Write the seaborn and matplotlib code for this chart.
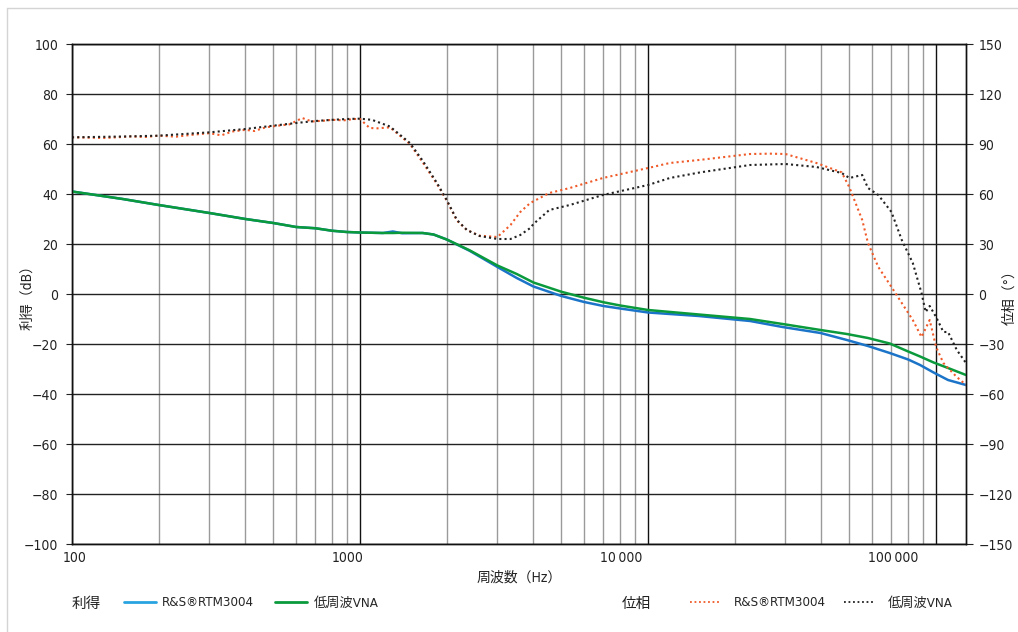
import numpy as np
import pandas as pd
import matplotlib.pyplot as plt
import seaborn as sns
from matplotlib.lines import Line2D
from matplotlib.transforms import ScaledTranslation
from matplotlib.ticker import FixedLocator, FixedFormatter, LogLocator, NullFormatter

# gain (dB)
gain_freq = [100, 150, 200, 300, 400, 500, 600, 700, 800, 900, 1000, 1200, 1300, 1400,
             1650, 1800, 2000, 2400, 3000, 3500, 4000, 5000, 6000, 7000, 8000, 10000,
             15000, 22600, 29300, 39700, 49000, 58000, 69000, 80000, 88000, 98000,
             110000, 127000]
gain_vna = [41, 38, 35.6, 32.4, 30, 28.4, 26.8, 26.3, 25.3, 24.8, 24.6, 24.4, 24.4, 24.5,
            24.4, 23.8, 21.8, 17.5, 11.4, 8, 4.6, 0.9, -1.5, -3.3, -4.6, -6.4,
            -8.2, -10, -12, -14.4, -16, -17.6, -19.8, -23, -25, -27.4, -29.6, -32.4]
gain_rtm = [41, 38, 35.6, 32.4, 30, 28.4, 26.8, 26.3, 25.3, 24.8, 24.6, 24.4, 25.0, 24.3,
            24.4, 23.8, 21.8, 17.3, 10.8, 6.4, 3, -0.8, -3.2, -4.8, -5.8, -7.4,
            -8.8, -10.8, -13.2, -15.6, -18.4, -20.8, -23.6, -26.2, -28.4, -31.4, -34.4, -36.4]

# phase (deg)
ph_vna_freq = [100, 150, 200, 300, 400, 500, 600, 700, 800, 900, 1000, 1100, 1270, 1490,
               1650, 1850, 2000, 2170, 2350, 2600, 3000, 3330, 3600, 3900, 4000, 4540,
               5350, 6970, 10000, 11900, 15200, 22600, 30000, 38400, 47000, 50000, 55400,
               58000, 63000, 70000, 76000, 83000, 89000, 92000, 95000, 100000, 106000,
               110000, 118000, 127000]
ph_vna = [94, 94.5, 95, 97, 99, 101, 102.6, 103.8, 104.5, 105, 105.2, 104.5, 100.5, 90.6,
          80, 66.6, 56.4, 44.4, 38.4, 34.8, 33, 33, 35.4, 39.6, 42, 50.4,
          53.4, 59.4, 65.4, 69.6, 73, 77.4, 78, 76.2, 72.6, 69.6, 71.4,
          63.6, 59.4, 49.2, 32.4, 18.6, 0.6, -10.8, -7.2, -13.8, -22.8,
          -22.8, -33.6, -41.4]
ph_rtm_freq = [100, 130, 160, 180, 200, 230, 260, 300, 330, 360, 400, 430, 470, 520, 570,
               630, 680, 750, 800, 880, 950, 1000, 1080, 1150, 1270, 1490, 1650, 1850,
               2000, 2170, 2350, 2600, 3000, 3330, 3600, 3900, 4540, 5350, 6970, 10000,
               11900, 15200, 22600, 26500, 30000, 38400, 47000, 50000, 55400, 58000,
               63000, 70000, 76000, 83000, 89000, 95000, 100000, 106000, 110000, 118000,
               127000]
ph_rtm = [94, 93.6, 94.5, 94.2, 95, 94.4, 95.5, 96.5, 95.2, 97.5, 98.5, 97.8, 100, 101, 101.8,
          105.6, 103.5, 104, 104.5, 104.2, 105, 105, 99.6, 99.4, 100, 90, 79, 66,
          56, 44, 38.4, 35, 34.2, 41.4, 49.2, 54.6, 60.6, 63.6, 69.6, 75.6,
          78.6, 80.5, 84, 84.2, 84, 78.6, 73, 64, 44.4, 30.6,
          16.2, 4.2, -5.4, -15.6, -25.8, -15.6, -31.8, -41.4, -44.4, -49.8,
          -54.6]

x_ticks = [100, 1000, 10000, 100000]
x_labels = ['100', '1000', '10\u2009000', '100\u2009000']

blue = '#1b74c8'
green = '#0a9a3c'
orange = '#f05a28'
black = '#222222'

sns.set_style('white')
plt.rcParams['font.family'] = ['DejaVu Sans', 'Noto Sans CJK JP']
plt.rcParams['font.stretch'] = 'condensed'
plt.rcParams['font.size'] = 10

fig = plt.figure(figsize=(10.18, 6.32), dpi=100)
ax = fig.add_axes([72/1018, 1-544/632, 894/1018, 500/632])
ax2 = ax.twinx()

gdf = pd.DataFrame({'f': gain_freq, 'rtm': gain_rtm, 'vna': gain_vna})
sns.lineplot(data=gdf, x='f', y='rtm', ax=ax, color=blue, lw=1.8, zorder=3)
sns.lineplot(data=gdf, x='f', y='vna', ax=ax, color=green, lw=1.8, zorder=4)
sns.lineplot(x=ph_rtm_freq, y=ph_rtm, ax=ax2, color=orange, lw=1.5, ls=(0, (1, 1.5)))
sns.lineplot(x=ph_vna_freq, y=ph_vna, ax=ax2, color=black, lw=1.5, ls=(0, (1, 1.5)))

ax.set_xscale('log')
ax.set_xlim(100, 127000)
ax.set_ylim(-100, 100)
ax2.set_ylim(-150, 150)
ax.set_yticks(np.arange(-100, 101, 20))
ax2.set_yticks(np.arange(-150, 151, 30))

ax.xaxis.set_major_locator(FixedLocator(x_ticks))
ax.xaxis.set_major_formatter(FixedFormatter(x_labels))
ax.xaxis.set_minor_locator(LogLocator(base=10, subs=np.arange(2, 10)))
ax.xaxis.set_minor_formatter(NullFormatter())
ax.tick_params(axis='x', which='both', length=0, pad=5, colors='#222')
ax.tick_params(axis='y', length=4, width=0.8, pad=6, colors='#222')
ax2.tick_params(axis='y', length=5, width=0.8, pad=4, colors='#222')

# tick labels in the original sit a little left of their grid lines
for lab, dx in zip(ax.get_xticklabels(), [3, -12, -27, -43]):
    lab.set_transform(lab.get_transform() + ScaledTranslation(dx / 100, 0, fig.dpi_scale_trans))

ax.grid(True, which='major', axis='x', color='#111', lw=1.0)
ax.grid(True, which='minor', axis='x', color='#9a9a9a', lw=1.0)
ax.grid(True, which='major', axis='y', color='#222', lw=1.0)
ax.set_axisbelow(True)
for a in (ax, ax2):
    for s in a.spines.values():
        s.set_color('#111')
        s.set_linewidth(1.0)

ax.set_xlabel('周波数（Hz）', labelpad=4, color='#222')
ax.set_ylabel('利得（dB）', color='#222')
ax.yaxis.set_label_coords(-38/894, 0.5)
ax2.set_ylabel('位相（°）', rotation=90, color='#222')
ax2.yaxis.set_label_coords(1 + 36/894, 0.5)

# legends
ly = 1 - 603/632
fig.text(72/1018, ly, '利得', ha='left', va='center', fontsize=10.5, color='#222')
h1 = [Line2D([], [], color='#29a3e0', lw=2), Line2D([], [], color=green, lw=2)]
fig.legend(h1, ['R&S®RTM3004', '低周波VNA'], loc='center left', bbox_to_anchor=(124/1018, ly),
           ncol=2, frameon=False, fontsize=9.5, handlelength=2.4, handletextpad=0.5,
           columnspacing=1.6, borderaxespad=0, borderpad=0)
fig.text(622/1018, ly, '位相', ha='left', va='center', fontsize=10.5, color='#222')
h2 = [Line2D([], [], color=orange, lw=1.3, ls=(0, (1, 1.5))),
      Line2D([], [], color=black, lw=1.3, ls=(0, (1, 1.5)))]
fig.legend(h2, ['R&S®RTM3004', '低周波VNA'], loc='center left', bbox_to_anchor=(690/1018, ly),
           ncol=2, frameon=False, fontsize=9.5, handlelength=2.2, handletextpad=1.1,
           columnspacing=1.4, borderaxespad=0, borderpad=0)

# outer frame
fig.add_artist(Line2D([7/1018, 1], [1-8/632, 1-8/632], transform=fig.transFigure, color='#d4d4d4', lw=1))
fig.add_artist(Line2D([7/1018, 7/1018], [0, 1-8/632], transform=fig.transFigure, color='#d4d4d4', lw=1))

fig.savefig('out.png', dpi=100)
